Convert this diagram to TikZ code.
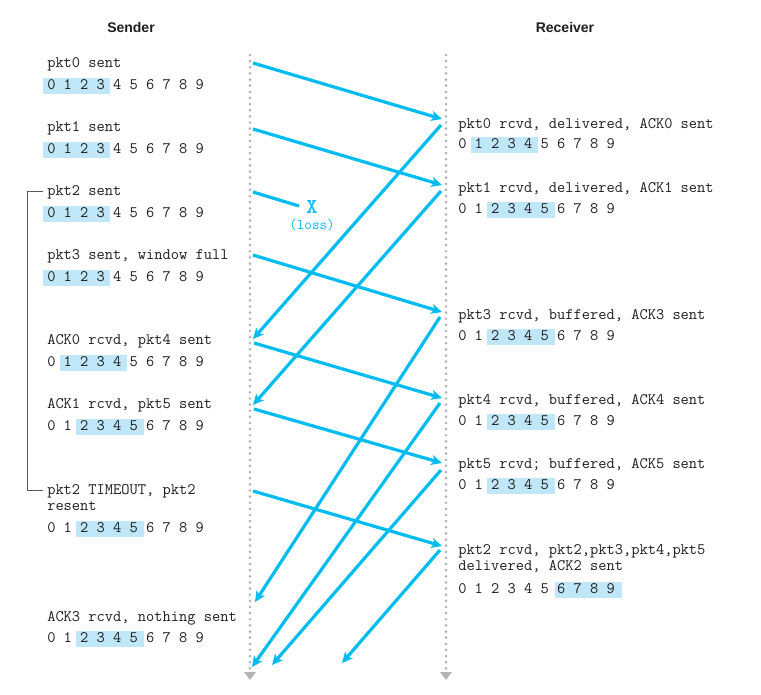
\documentclass[tikz,border=0pt]{standalone}
\usepackage{fontspec}
\usepackage{xcolor}
\usepackage{tikz}
\usetikzlibrary{arrows.meta,positioning,calc}
\newfontfamily\headfont{Liberation Sans}
\definecolor{linkblue}{RGB}{0,188,240}
\definecolor{winblue}{RGB}{192,231,247}
\definecolor{dotgray}{RGB}{178,178,178}
\definecolor{textgray}{RGB}{30,30,30}

% sequence-number window: name, x, baseline, first, last
\newcommand{\seqwin}[5]{%
    \fill[winblue] ({#2+(2*#4-0.5)*8.4},{#3-11.5}) rectangle ({#2+(2*#5+1.5)*8.4},{#3+4.5});
    \node[seqrow] (#1) at (#2,#3) {0 1 2 3 4 5 6 7 8 9};}

\begin{document}
\begin{tikzpicture}[
    x=0.75pt, y=-0.75pt,
    lbl/.style={anchor=base west, inner sep=0pt, text=textgray, align=left,
                font=\ttfamily\fontsize{12}{12}\selectfont},
    seqrow/.style={lbl},
    head/.style={anchor=base, inner sep=0pt, text=textgray,
                 font=\headfont\bfseries\fontsize{10.5}{12}\selectfont},
    tline/.style={dotgray, line width=2.2pt, line cap=round,
                  dash pattern=on 0pt off 4.6pt,
                  -{Triangle[length=6pt, width=8.5pt]}},
    pkt/.style={linkblue, line width=2.4pt,
                -{Stealth[length=8pt, width=7.5pt, inset=2pt]}},
    bracket/.style={draw=black!65, line width=0.6pt},
]
    \path[use as bounding box, fill=white] (0,0) rectangle (761,694);

    % Headings
    \node[head] (sender) at (131,32) {Sender};
    \node[head] (receiver) at (565,32) {Receiver};

    % Time lines
    \coordinate (stop) at (250,55);
    \coordinate (sbot) at (250,680);
    \coordinate (rtop) at (446,55);
    \coordinate (rbot) at (446,680);
    \draw[tline] (stop) -- (sbot);
    \draw[tline] (rtop) -- (rbot);

    % Sender events
    \node[lbl] (sent0) at (47,67) {pkt0 sent};
    \seqwin{win0}{47}{89}{0}{3}
    \node[lbl] (sent1) at (47,131) {pkt1 sent};
    \seqwin{win1}{47}{153}{0}{3}
    \node[lbl] (sent2) at (47,195) {pkt2 sent};
    \seqwin{win2}{47}{217}{0}{3}
    \node[lbl] (sent3) at (47,259) {pkt3 sent, window full};
    \seqwin{win3}{47}{281}{0}{3}
    \node[lbl] (ack0in) at (47,344) {ACK0 rcvd, pkt4 sent};
    \seqwin{win4}{47}{366}{1}{4}
    \node[lbl] (ack1in) at (47,408) {ACK1 rcvd, pkt5 sent};
    \seqwin{win5}{47}{430}{2}{5}
    \node[lbl] (timeout) at (47,510) {pkt2 TIMEOUT, pkt2\\resent};
    \seqwin{win6}{47}{532}{2}{5}
    \node[lbl] (ack3in) at (47,621) {ACK3 rcvd, nothing sent};
    \seqwin{win7}{47}{642}{2}{5}

    % Timer bracket
    \draw[bracket] ([xshift=-3pt,yshift=3pt]sent2.base west) -- ++(-12pt,0)
        |- ([xshift=-3pt,yshift=15pt]timeout.base west);

    % Receiver events
    \node[lbl] (rcvd0) at (458,128) {pkt0 rcvd, delivered, ACK0 sent};
    \seqwin{rwin0}{458}{148}{1}{4}
    \node[lbl] (rcvd1) at (458,192) {pkt1 rcvd, delivered, ACK1 sent};
    \seqwin{rwin1}{458}{213}{2}{5}
    \node[lbl] (rcvd3) at (458,319) {pkt3 rcvd, buffered, ACK3 sent};
    \seqwin{rwin3}{458}{340}{2}{5}
    \node[lbl] (rcvd4) at (458,404) {pkt4 rcvd, buffered, ACK4 sent};
    \seqwin{rwin4}{458}{425}{2}{5}
    \node[lbl] (rcvd5) at (458,468) {pkt5 rcvd; buffered, ACK5 sent};
    \seqwin{rwin5}{458}{489}{2}{5}
    \node[lbl] (rcvd2) at (458,570) {pkt2 rcvd, pkt2,pkt3,pkt4,pkt5\\delivered, ACK2 sent};
    \seqwin{rwin2}{458}{593}{6}{9}

    % Send and arrival points
    \coordinate (tx0) at (253,63);   \coordinate (rx0) at (442,119);
    \coordinate (tx1) at (253,129);  \coordinate (rx1) at (442,185);
    \coordinate (tx2) at (253,192);  \coordinate (lost) at (299,206);
    \coordinate (tx3) at (253,255);  \coordinate (rx3) at (442,312);
    \coordinate (tx4) at (254,343);  \coordinate (rx4) at (442,398);
    \coordinate (tx5) at (254,409);  \coordinate (rx5) at (442,463);
    \coordinate (tx2b) at (253,491); \coordinate (rx2b) at (442,546);

    % ACK points
    \coordinate (ak0) at (441,125);  \coordinate (ag0) at (253,339);
    \coordinate (ak1) at (441,191);  \coordinate (ag1) at (253,405);
    \coordinate (ak3) at (440,317);  \coordinate (ag3) at (255,602);
    \coordinate (ak4) at (440,403);  \coordinate (ag4) at (252,667);
    \coordinate (ak5) at (441,470);  \coordinate (ag5) at (272,665);
    \coordinate (ak2) at (440,550);  \coordinate (ag2) at (342,663);

    % Data packets
    \draw[pkt] (tx0) -- (rx0);
    \draw[pkt] (tx1) -- (rx1);
    \draw[pkt, -] (tx2) -- (lost);
    \draw[pkt] (tx3) -- (rx3);
    \draw[pkt] (tx4) -- (rx4);
    \draw[pkt] (tx5) -- (rx5);
    \draw[pkt] (tx2b) -- (rx2b);

    % Loss mark
    \node[inner sep=0pt, text=linkblue, font=\ttfamily\bfseries\fontsize{16}{16}\selectfont]
        (lossx) at (312,207) {X};
    \node[inner sep=0pt, anchor=base, text=linkblue, font=\ttfamily\fontsize{11}{12}\selectfont]
        (losslbl) at (312,229) {(loss)};

    % ACKs
    \draw[pkt] (ak0) -- (ag0);
    \draw[pkt] (ak1) -- (ag1);
    \draw[pkt] (ak3) -- (ag3);
    \draw[pkt] (ak4) -- (ag4);
    \draw[pkt] (ak5) -- (ag5);
    \draw[pkt] (ak2) -- (ag2);
\end{tikzpicture}
\end{document}
